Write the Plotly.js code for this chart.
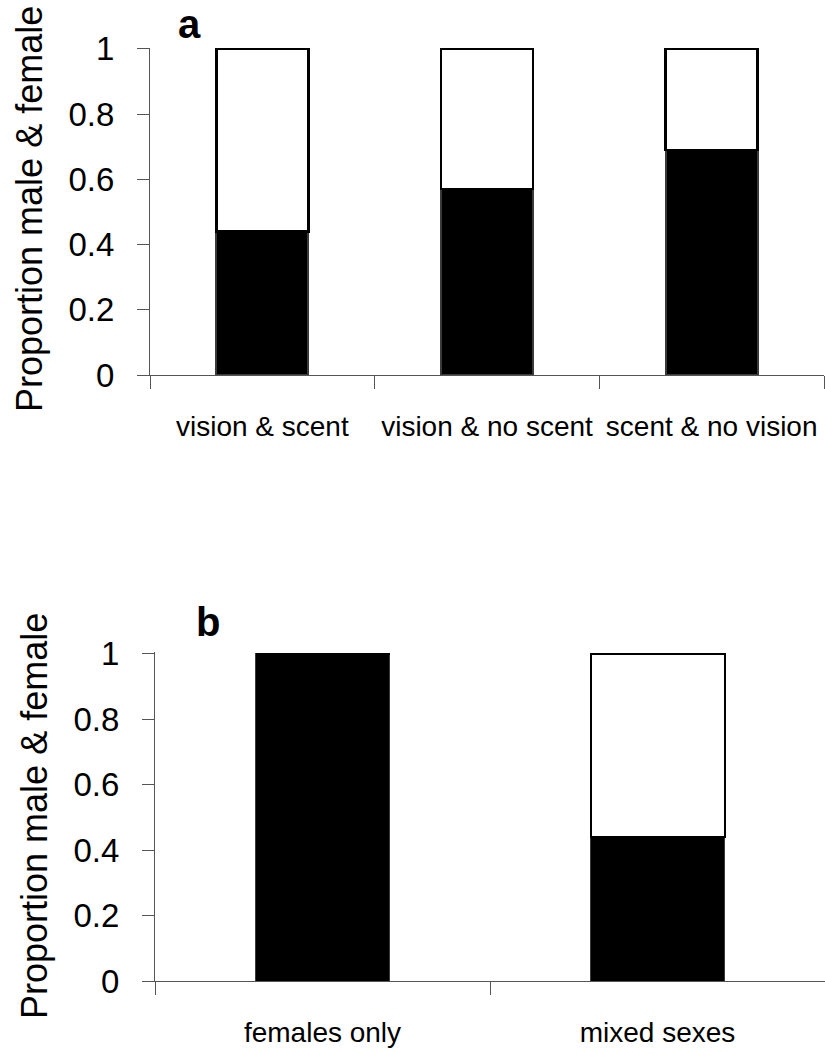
<!DOCTYPE html>
<html>
<head>
<meta charset="utf-8">
<script src="https://cdn.plot.ly/plotly-3.0.1.min.js"></script>
<style>
html,body{margin:0;padding:0;background:#fff;}
#chart{width:825px;height:1053px;}
</style>
</head>
<body>
<div id="chart"></div>
<script>
// Panel a
const categoriesA = ['vision & scent', 'vision & no scent', 'scent & no vision'];
const femaleA = [0.44, 0.57, 0.69];   // black segments
const maleA = [0.56, 0.43, 0.31];     // white segments
// Panel b
const categoriesB = ['females only', 'mixed sexes'];
const femaleB = [1.0, 0.44];
const maleB = [0, 0.56];
const yTickVals = [0, 0.2, 0.4, 0.6, 0.8, 1];
const yTickText = ['0', '0.2', '0.4', '0.6', '0.8', '1'];
const yTitle = 'Proportion male & female';

const FONT = 'Liberation Sans, Arial, sans-serif';
const W = 825, H = 1053;
function py(pix){ return (H - pix) / H; }

const traces = [
  {type:'bar', name:'female', x:categoriesA, y:femaleA, xaxis:'x', yaxis:'y', width:0.41,
   marker:{color:'#000000', line:{color:'#3a3a3a', width:2}}},
  {type:'bar', name:'male', x:categoriesA, y:maleA, xaxis:'x', yaxis:'y', width:0.41,
   marker:{color:'#ffffff', line:{color:'#000000', width:2.5}}},
  {type:'bar', name:'female', x:categoriesB, y:femaleB, xaxis:'x2', yaxis:'y2', width:0.40,
   marker:{color:'#000000', line:{color:'#3a3a3a', width:1}}},
  {type:'bar', name:'male', x:categoriesB, y:maleB, xaxis:'x2', yaxis:'y2', width:0.40,
   marker:{color:'#ffffff', line:{color:'#000000', width:2}}}
];

function xAxis(domain, anchor){
  return {
    type:'category', domain:domain, anchor:anchor,
    tickson:'boundaries', ticks:'outside', ticklen:13, tickwidth:1, tickcolor:'#555',
    showline:true, linecolor:'#555', linewidth:1, showgrid:false, zeroline:false,
    tickfont:{family:FONT, size:28, color:'#000'}, ticklabelstandoff:26,
    fixedrange:true
  };
}
function yAxis(domain, anchor){
  return {
    domain:domain, anchor:anchor, range:[0, 1.004],
    tickmode:'array', tickvals:yTickVals, ticktext:yTickText,
    ticks:'outside', ticklen:12, tickwidth:1, tickcolor:'#555',
    showline:true, linecolor:'#555', linewidth:1, showgrid:false, zeroline:false,
    tickfont:{family:FONT, size:33, color:'#000'}, ticklabelstandoff:16,
    fixedrange:true
  };
}

const layout = {
  width:W, height:H,
  margin:{l:0, r:0, t:0, b:0},
  paper_bgcolor:'#fff', plot_bgcolor:'#fff',
  barmode:'stack', showlegend:false,
  xaxis: xAxis([150/W, 824/W], 'y'),
  yaxis: yAxis([py(375), py(47.5)], 'x'),
  xaxis2: xAxis([155/W, 1], 'y2'),
  yaxis2: yAxis([py(981), py(652.3)], 'x2'),
  annotations: [
    {text:yTitle, xref:'paper', yref:'paper', x:29/W, y:py(209), textangle:-90,
     showarrow:false, xanchor:'center', yanchor:'middle', font:{family:FONT, size:36, color:'#000'}},
    {text:yTitle, xref:'paper', yref:'paper', x:34/W, y:py(816), textangle:-90,
     showarrow:false, xanchor:'center', yanchor:'middle', font:{family:FONT, size:36, color:'#000'}},
    {text:'<b>a</b>', xref:'paper', yref:'paper', x:189/W, y:1, showarrow:false,
     xanchor:'center', yanchor:'top', font:{family:FONT, size:40, color:'#000'}},
    {text:'<b>b</b>', xref:'paper', yref:'paper', x:208/W, y:py(622), showarrow:false,
     xanchor:'center', yanchor:'middle', font:{family:FONT, size:40, color:'#000'}}
  ]
};

Plotly.newPlot('chart', traces, layout, {displayModeBar:false, staticPlot:true});
</script>
</body>
</html>
